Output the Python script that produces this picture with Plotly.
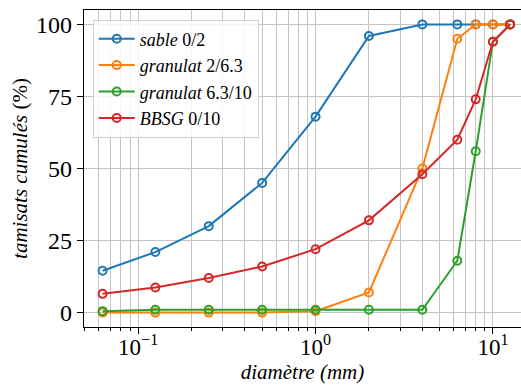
import plotly.graph_objects as go
import math

sieves = [0.063, 0.125, 0.25, 0.5, 1, 2, 4, 6.3, 8, 10, 12.5]
sable = [14.5, 21, 30, 45, 68, 96, 100, 100, 100, 100, 100]
gran_2_63 = [0, 0, 0, 0, 0.5, 7, 50, 95, 100, 100, 100]
gran_63_10 = [0.5, 1, 1, 1, 1, 1, 1, 18, 56, 94, 100]
bbsg = [6.5, 8.7, 12, 16, 22, 32, 48, 60, 74, 94, 100]

names = ["sable 0/2", "granulat 2/6.3", "granulat 6.3/10", "BBSG 0/10"]
series = [sable, gran_2_63, gran_63_10, bbsg]
colors = ["#1f77b4", "#ff7f0e", "#2ca02c", "#d62728"]

x_ticks = [0.1, 1, 10]
x_ticktext = ["10<sup>−1</sup>", "10<sup>0</sup>", "10<sup>1</sup>"]
y_ticks = [0, 25, 50, 75, 100]

FONT = "Liberation Serif"

fig = go.Figure()
for name, vals, col in zip(names, series, colors):
    word, num = name.split(" ")
    fig.add_trace(go.Scatter(
        x=sieves, y=vals, mode="lines+markers", name=f"<i>{word}</i> {num}",
        line=dict(color=col, width=2),
        marker=dict(symbol="circle-open", size=8, color=col, line=dict(width=2, color=col)),
    ))

minor_vals = [m * 10 ** e for e in (-2, -1, 0, 1) for m in range(2, 10)]

grid_col = "#c4c4c4"
fig.update_layout(
    width=521, height=385,
    margin=dict(l=84, r=0, t=10, b=58),
    paper_bgcolor="white", plot_bgcolor="white",
    font=dict(family=FONT, color="black"),
    showlegend=True,
    legend=dict(x=0.02, y=0.97, xanchor="left", yanchor="top",
                bgcolor="rgba(255,255,255,0.85)", bordercolor="#d0d0d0", borderwidth=1,
                font=dict(size=18, family=FONT), itemwidth=36),
    xaxis=dict(
        type="log", range=[math.log10(0.0495), math.log10(14.4)],
        tickvals=x_ticks, ticktext=x_ticktext, tickfont=dict(size=23),
        ticks="outside", ticklen=6, tickcolor="black", tickwidth=1,
        ticklabelstandoff=-7,
        showline=True, linecolor="black", linewidth=1.2, mirror=True,
        showgrid=True, gridcolor=grid_col, gridwidth=1,
        minor=dict(tickvals=minor_vals, ticks="outside", ticklen=3, tickcolor="black",
                   showgrid=True, gridcolor=grid_col, gridwidth=1),
        zeroline=False, automargin=False,
        title=dict(text="<i>diamètre (mm)</i>", font=dict(size=21), standoff=0),
    ),
    yaxis=dict(
        range=[-5, 105], tickvals=y_ticks, tickfont=dict(size=24),
        ticks="outside", ticklen=6, tickcolor="black",
        showline=True, linecolor="black", linewidth=1.2,
        showgrid=True, gridcolor=grid_col, gridwidth=1, zeroline=False,
        automargin=False,
        title=dict(text="<i>tamisats cumulés</i> (%)", font=dict(size=21), standoff=2),
    ),
)

fig.write_html("out.html", config={"displayModeBar": False},
               post_script="document.body.style.margin='0';document.body.style.overflow='hidden';")
